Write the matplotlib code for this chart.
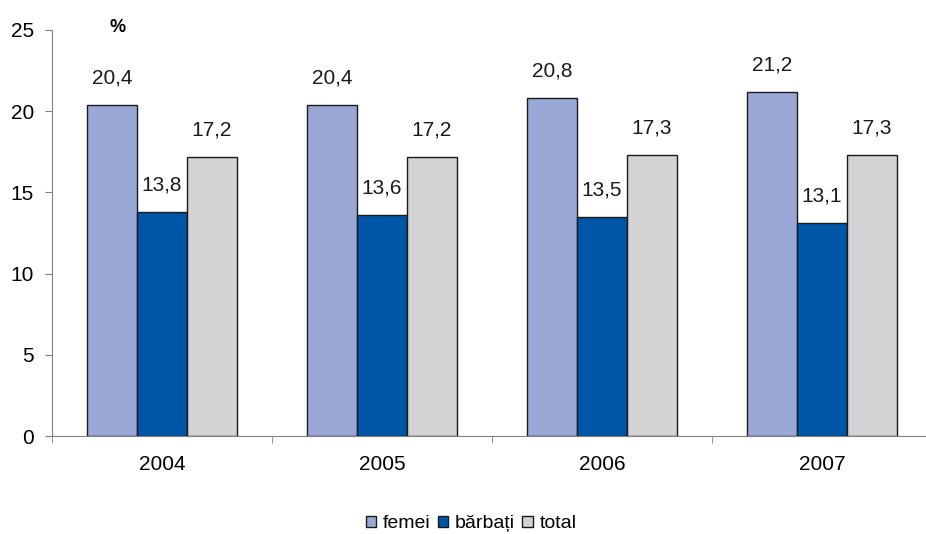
import matplotlib
matplotlib.use("Agg")
import matplotlib.pyplot as plt
import numpy as np

years = ["2004", "2005", "2006", "2007"]
series_names = ["femei", "bărbați", "total"]
femei = [20.4, 20.4, 20.8, 21.2]
barbati = [13.8, 13.6, 13.5, 13.1]
total = [17.2, 17.2, 17.3, 17.3]
colors = ["#99A8D6", "#0056A6", "#D3D3D5"]

plt.rcParams["font.family"] = ["Liberation Sans", "DejaVu Sans"]

fig = plt.figure(figsize=(9.26, 5.34), dpi=100)
ax = fig.add_axes([52 / 926, 98 / 534, 880 / 926, 406 / 534])

x = np.arange(len(years))
width = 0.227
for i, (vals, name) in enumerate(zip([femei, barbati, total], series_names)):
    bars = ax.bar(x + (i - 1) * width, vals, width, color=colors[i],
                  edgecolor="#1a1a1a", linewidth=1.0, label=name, zorder=3)
    for b, v in zip(bars, vals):
        ax.annotate(f"{v:.1f}".replace(".", ","),
                    (b.get_x() + b.get_width() / 2, b.get_height()),
                    xytext=(0, 12.5), textcoords="offset points",
                    ha="center", va="bottom", fontsize=15, color="#1a1a1a")

ax.set_xlim(-0.5, len(years) - 0.5)
ax.set_ylim(0, 25)
ax.set_yticks([0, 5, 10, 15, 20, 25])
ax.set_xticks(x)
ax.set_xticklabels(years)
ax.set_xticks(np.arange(len(years) + 1) - 0.5, minor=True)
ax.tick_params(axis="x", which="major", length=0, pad=14, labelsize=15)
ax.tick_params(axis="x", which="minor", length=5, color="#808080", direction="out")
ax.tick_params(axis="y", length=5, color="#808080", pad=8, labelsize=15)

for s in ["top", "right"]:
    ax.spines[s].set_visible(False)
ax.spines["left"].set_color("#808080")
ax.spines["bottom"].set_color("#808080")

ax.text(118 / 926, 1 - 27 / 534, "%", transform=fig.transFigure, fontsize=13,
        fontweight="bold", ha="center", va="center")

fig.legend(loc="center", bbox_to_anchor=(471 / 926, 1 - 524 / 534), ncol=3,
           frameon=False, fontsize=14, handlelength=0.55, handleheight=0.55,
           handletextpad=0.35, columnspacing=0.35, borderpad=0)

fig.savefig("out.png", dpi=100)
